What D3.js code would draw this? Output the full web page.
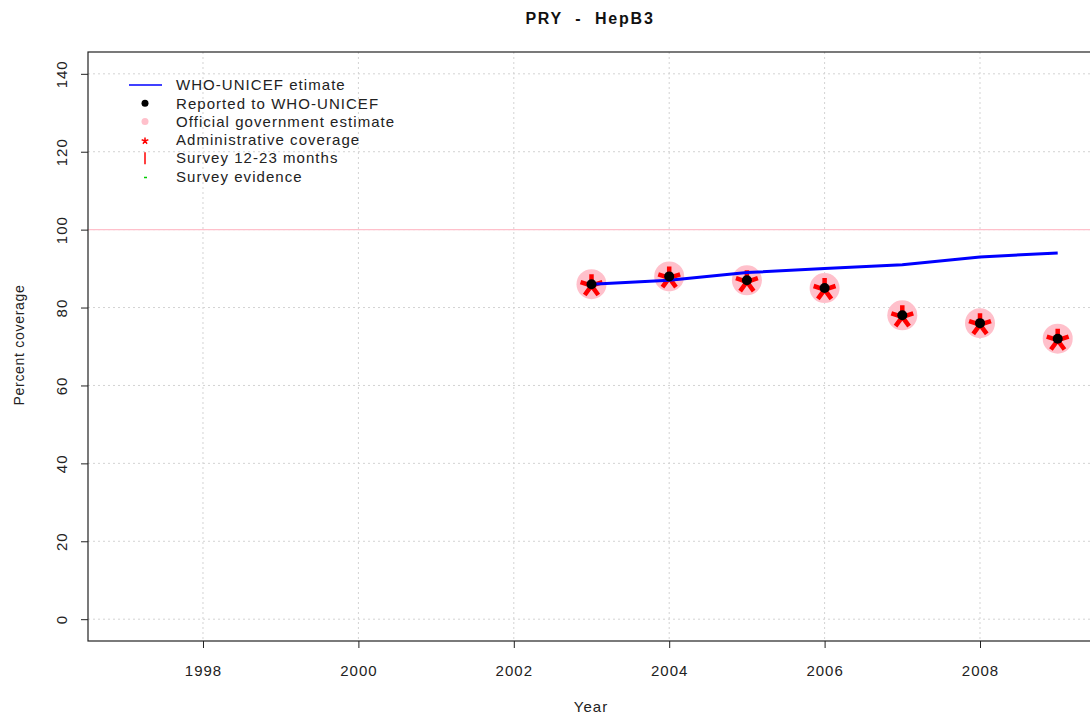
<!DOCTYPE html>
<html>
<head>
<meta charset="utf-8">
<script src="https://cdn.jsdelivr.net/npm/d3@7"></script>
<style>
  body { margin: 0; background: #fff; }
  text { font-family: "Liberation Sans", Arial, sans-serif; }
</style>
</head>
<body>
<svg width="1090" height="717"></svg>
<script>
var years = [2003, 2004, 2005, 2006, 2007, 2008, 2009],
    whoEstimate = [86, 87, 89, 90, 91, 93, 94],
    reported = [86, 88, 87, 85, 78, 76, 72],
    official = [86, 88, 87, 85, 78, 76, 72],
    admin = [86, 88, 87, 85, 78, 76, 72],
    xTicks = [1998, 2000, 2002, 2004, 2006, 2008],
    yTicks = [0, 20, 40, 60, 80, 100, 120, 140],
    legendItems = ['WHO-UNICEF etimate', 'Reported to WHO-UNICEF', 'Official government estimate',
        'Administrative coverage', 'Survey 12-23 months', 'Survey evidence'];

var svg = d3.select('svg'),
    plotL = 88, plotR = 1095, plotT = 52, plotB = 641;

var x = d3.scaleLinear().domain([1996.52, 2009.48]).range([plotL, plotR]),
    y = d3.scaleLinear().domain([-5.6, 145.6]).range([plotB, plotT]);

// grid
svg.selectAll('.gx').data(xTicks).enter().append('line')
    .attr('x1', function (d) { return x(d); })
    .attr('x2', function (d) { return x(d); })
    .attr('y1', plotT).attr('y2', plotB)
    .attr('stroke', '#d3d3d3').attr('stroke-dasharray', '2,3');
svg.selectAll('.gy').data(yTicks).enter().append('line')
    .attr('x1', plotL).attr('x2', plotR)
    .attr('y1', function (d) { return y(d); })
    .attr('y2', function (d) { return y(d); })
    .attr('stroke', '#d3d3d3').attr('stroke-dasharray', '2,3');

// 100% reference line
svg.append('line')
    .attr('x1', plotL).attr('x2', plotR)
    .attr('y1', y(100)).attr('y2', y(100))
    .attr('stroke', '#ffc0cb').attr('stroke-width', 1.2);

// axes
var xAxis = d3.axisBottom(x).tickValues(xTicks).tickSize(7).tickPadding(17).tickFormat(d3.format('d'));
var gx = svg.append('g').attr('transform', 'translate(0,' + plotB + ')').call(xAxis);
gx.select('.domain').remove();
gx.selectAll('line').attr('stroke', '#222');
gx.selectAll('text').attr('font-size', 15).attr('letter-spacing', 1).attr('fill', '#222')
    .attr('font-family', '"Liberation Sans", Arial, sans-serif');

var yAxis = d3.axisLeft(y).tickValues(yTicks).tickSize(7).tickFormat(d3.format('d'));
var gy = svg.append('g').attr('transform', 'translate(' + plotL + ',0)').call(yAxis);
gy.select('.domain').remove();
gy.selectAll('line').attr('stroke', '#222');
gy.selectAll('text')
    .attr('font-size', 15).attr('letter-spacing', 1).attr('fill', '#222')
    .attr('font-family', '"Liberation Sans", Arial, sans-serif')
    .attr('text-anchor', 'middle').attr('x', 0).attr('y', 0).attr('dy', '0.35em')
    .attr('transform', 'translate(-26,0) rotate(-90)');

// box
svg.append('rect')
    .attr('x', plotL).attr('y', plotT)
    .attr('width', plotR - plotL).attr('height', plotB - plotT)
    .attr('fill', 'none').attr('stroke', '#222').attr('stroke-width', 1.2);

// official government estimate (pink discs)
svg.selectAll('.off').data(years).enter().append('circle')
    .attr('cx', function (d) { return x(d); })
    .attr('cy', function (d, i) { return y(official[i]); })
    .attr('r', 15).attr('fill', '#ffc0cb');

// administrative coverage (red asterisks)
function star(cx, cy, r) {
    var p = '';
    for (var k = 0; k < 5; k++) {
        var a = -Math.PI / 2 + k * 2 * Math.PI / 5;
        p += 'M' + cx + ',' + cy + 'L' + (cx + r * Math.cos(a)) + ',' + (cy + r * Math.sin(a));
    }
    return p;
}
svg.selectAll('.adm').data(years).enter().append('path')
    .attr('d', function (d, i) { return star(x(d), y(admin[i]) + 1.5, 11.5); })
    .attr('stroke', '#ff0000').attr('stroke-width', 4.5).attr('fill', 'none');

// WHO-UNICEF estimate
var line = d3.line()
    .x(function (d) { return x(d); })
    .y(function (d, i) { return y(whoEstimate[i]); });
svg.append('path').datum(years)
    .attr('d', line)
    .attr('fill', 'none').attr('stroke', '#0000ff').attr('stroke-width', 3);

// reported
svg.selectAll('.rep').data(years).enter().append('circle')
    .attr('cx', function (d) { return x(d); })
    .attr('cy', function (d, i) { return y(reported[i]); })
    .attr('r', 5).attr('fill', '#000');

// legend
var lg = svg.append('g');
var rowY = function (i) { return 85 + i * 18.3; };
lg.selectAll('text').data(legendItems).enter().append('text')
    .attr('x', 176).attr('y', function (d, i) { return rowY(i); })
    .attr('dy', '0.35em').attr('font-size', 15).attr('letter-spacing', 1.05).attr('fill', '#222')
    .text(function (d) { return d; });
lg.append('line').attr('x1', 129).attr('x2', 162).attr('y1', rowY(0)).attr('y2', rowY(0))
    .attr('stroke', '#0000ff').attr('stroke-width', 1.5);
lg.append('circle').attr('cx', 145).attr('cy', rowY(1)).attr('r', 3.5).attr('fill', '#000');
lg.append('circle').attr('cx', 145).attr('cy', rowY(2)).attr('r', 3.5).attr('fill', '#ffc0cb');
lg.append('path').attr('d', star(145, rowY(3) + 1, 3.5))
    .attr('stroke', '#ff0000').attr('stroke-width', 1.5);
lg.append('line').attr('x1', 145).attr('x2', 145).attr('y1', rowY(4) - 6).attr('y2', rowY(4) + 6)
    .attr('stroke', '#ff0000').attr('stroke-width', 1.5);
lg.append('line').attr('x1', 144).attr('x2', 147).attr('y1', rowY(5) + 1).attr('y2', rowY(5) + 1)
    .attr('stroke', '#00cc00').attr('stroke-width', 1.5);

// titles
svg.append('text').attr('x', 590).attr('y', 24).attr('text-anchor', 'middle')
    .attr('font-size', 16).attr('font-weight', 'bold').attr('letter-spacing', 1.8).attr('fill', '#111')
    .attr('xml:space', 'preserve').text('PRY  -  HepB3');
svg.append('text').attr('x', 591).attr('y', 712).attr('text-anchor', 'middle')
    .attr('font-size', 15).attr('letter-spacing', 1).attr('fill', '#222').text('Year');
svg.append('text').attr('transform', 'translate(24,345) rotate(-90)').attr('text-anchor', 'middle')
    .attr('font-size', 14).attr('letter-spacing', 0.7).attr('fill', '#222').text('Percent coverage');
</script>
</body>
</html>
